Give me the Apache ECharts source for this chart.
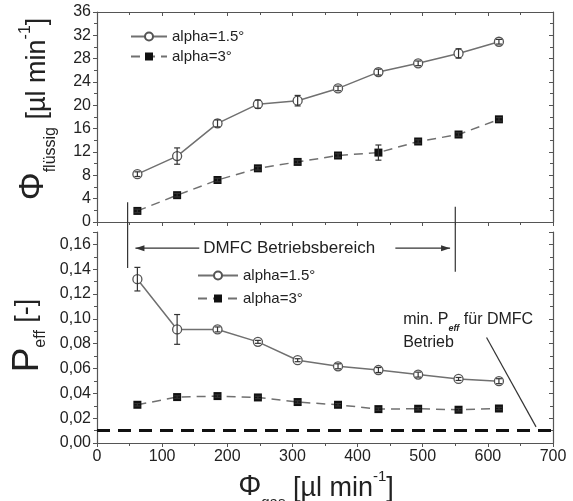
<!DOCTYPE html>
<html>
<head>
<meta charset="utf-8">
<script src="https://cdn.jsdelivr.net/npm/echarts@6/dist/echarts.min.js"></script>
<style>
html,body{margin:0;padding:0;background:#fff;}
#main{width:573px;height:501px;}
</style>
</head>
<body>
<div id="main"></div>
<script>
// Gasfluss (x) fuer beide Diagramme
var gasFlow = [62, 123, 185, 247, 308, 370, 432, 493, 555, 617];

// oben: Fluessigkeitsfluss
var flowA15 = [8.2, 11.3, 16.9, 20.2, 20.8, 22.9, 25.7, 27.2, 28.9, 30.9];
var flowA15Err = [0.4, 1.4, 0.6, 0.7, 0.9, 0.4, 0.5, 0.4, 0.8, 0.4];
var flowA3 = [1.9, 4.6, 7.2, 9.2, 10.3, 11.4, 11.9, 13.8, 15.0, 17.6];
var flowA3Err = [0.3, 0.3, 0.3, 0.3, 0.3, 0.3, 1.3, 0.3, 0.3, 0.3];

// unten: Peff
var peffA15 = [0.132, 0.0915, 0.0915, 0.0815, 0.0667, 0.0618, 0.0588, 0.0551, 0.0516, 0.0498];
var peffA15Err = [0.0095, 0.012, 0.002, 0.0012, 0.0012, 0.002, 0.002, 0.002, 0.0012, 0.002];
var peffA3 = [0.0308, 0.0370, 0.0378, 0.0367, 0.0330, 0.0308, 0.0273, 0.0276, 0.0268, 0.0278];
var peffA3Err = [0.001, 0.001, 0.001, 0.001, 0.001, 0.001, 0.001, 0.001, 0.001, 0.001];

var minPeff = 0.01;
var legendNames = ['alpha=1.5°', 'alpha=3°'];

var font = 'Liberation Sans, Arial, sans-serif';
var axisColor = '#555';
var lineGray = '#707070';

function pairs(xs, ys) {
    return xs.map(function (x, i) { return [x, ys[i]]; });
}
function errData(xs, ys, es) {
    return xs.map(function (x, i) { return [x, ys[i], ys[i] - es[i], ys[i] + es[i]]; });
}

function errRender(params, api) {
    var p0 = api.coord([api.value(0), api.value(2)]);
    var p1 = api.coord([api.value(0), api.value(3)]);
    var st = {stroke: '#333', lineWidth: 1.2};
    return {
        type: 'group',
        children: [
            {type: 'line', shape: {x1: p0[0], y1: p0[1], x2: p1[0], y2: p1[1]}, style: st},
            {type: 'line', shape: {x1: p0[0] - 3, y1: p0[1], x2: p0[0] + 3, y2: p0[1]}, style: st},
            {type: 'line', shape: {x1: p1[0] - 3, y1: p1[1], x2: p1[0] + 3, y2: p1[1]}, style: st}
        ]
    };
}

// Textstile fuer Achsentitel mit Index
function richSet(main, big, sub, mainLift, subDrop) {
    return {
        m: {fontSize: main, fontFamily: font, color: '#222', lineHeight: 36, verticalAlign: 'bottom', padding: [0, 0, mainLift, 0]},
        big: {fontSize: big, fontFamily: font, color: '#222', lineHeight: 36, verticalAlign: 'bottom'},
        sub: {fontSize: sub, fontFamily: font, color: '#222', lineHeight: 36, verticalAlign: 'bottom', padding: [0, 0, -subDrop, 0]},
        sup: {fontSize: sub, fontFamily: font, color: '#222', lineHeight: 36, verticalAlign: 'top', padding: [3, 0, 0, 0]}
    };
}

function xAx(grid, pos, labels, name) {
    var a = {
        type: 'value', gridIndex: grid, position: pos, min: 0, max: 700, interval: 100,
        axisLine: {show: true, onZero: false, lineStyle: {color: axisColor, width: 1.2}},
        axisTick: {show: true, inside: pos === 'top', length: 4, lineStyle: {color: axisColor}},
        minorTick: {show: true, splitNumber: 2, length: 3, lineStyle: {color: axisColor}},
        axisLabel: {show: labels, color: '#222', fontSize: 16, fontFamily: font, margin: 6},
        splitLine: {show: false}
    };
    if (pos === 'top' && grid === 1) a.axisLine.show = false, a.axisTick.show = false, a.minorTick.show = false;
    if (name) {
        a.name = name;
        a.nameLocation = 'middle';
        a.nameGap = 14;
        a.nameTextStyle = {fontFamily: font, color: '#222', padding: [0, 18, 0, 0], rich: richSet(27, 29, 15, 0, 8)};
    }
    return a;
}

function yAx(grid, pos, max, interval, fmt, name, gap, pad, rich) {
    var a = {
        type: 'value', gridIndex: grid, position: pos, min: 0, max: max, interval: interval,
        axisLine: {show: true, onZero: false, lineStyle: {color: axisColor, width: 1.2}},
        axisTick: {show: true, inside: pos === 'right', length: 4, lineStyle: {color: axisColor}},
        minorTick: {show: true, splitNumber: 2, length: 3, lineStyle: {color: axisColor}},
        axisLabel: {show: pos === 'left', color: '#222', fontSize: 16, fontFamily: font, margin: 6,
            showMaxLabel: grid === 0, formatter: fmt},
        splitLine: {show: false}
    };
    if (name) {
        a.name = name;
        a.nameLocation = 'middle';
        a.nameRotate = 90;
        a.nameGap = gap;
        a.nameTextStyle = {fontFamily: font, color: '#222', padding: pad, rich: rich};
    }
    return a;
}

var s15Style = {
    type: 'line', symbol: 'circle', symbolSize: 9,
    lineStyle: {color: lineGray, width: 1.5},
    itemStyle: {color: '#fff', borderColor: '#555', borderWidth: 1.3},
    z: 3
};
var s3Style = {
    type: 'line', symbol: 'rect', symbolSize: 8,
    lineStyle: {color: lineGray, width: 1.5, type: [9, 6]},
    itemStyle: {color: '#111'},
    z: 3
};

function lineSeries(base, name, xi, yi, data) {
    var s = echarts.util.merge({}, base, true);
    s.name = name;
    s.xAxisIndex = xi;
    s.yAxisIndex = yi;
    s.data = data;
    s.animation = false;
    return s;
}
function errSeries(xi, yi, data) {
    return {type: 'custom', xAxisIndex: xi, yAxisIndex: yi, renderItem: errRender, data: data, z: 5, silent: true, animation: false};
}

var chart = echarts.init(document.getElementById('main'));
var commaFmt = function (v) { return v.toFixed(2).replace('.', ','); };
var legendText = {fontFamily: font, fontSize: 15, color: '#222'};

chart.setOption({
    backgroundColor: '#fff',
    animation: false,
    grid: [
        {left: 97, right: 20, top: 12, height: 210, outerBoundsMode: 'none'},
        {left: 97, right: 20, top: 232, height: 211, outerBoundsMode: 'none'}
    ],
    legend: [
        {data: legendNames, orient: 'vertical', left: 125, top: 24, itemWidth: 36, itemHeight: 10, itemGap: 5,
            textStyle: legendText, selectedMode: false},
        {data: legendNames, orient: 'vertical', left: 192, top: 263, itemWidth: 40, itemHeight: 10, itemGap: 8,
            textStyle: legendText, selectedMode: false}
    ],
    xAxis: [
        xAx(0, 'bottom', false),
        xAx(0, 'top', false),
        xAx(1, 'bottom', true, '{big|Φ}{sub|gas}{m| [µl min}{sup|-1}{m|]}'),
        xAx(1, 'top', false)
    ],
    yAxis: [
        yAx(0, 'left', 36, 4, null, '{big|Φ}{sub|flüssig}{m| [µl min}{sup|-1}{m|]}', 46, [0, 0, 0, 16], richSet(27, 35, 16, 0, 8)),
        yAx(0, 'right', 36, 4, null),
        yAx(1, 'left', 0.17, 0.02, commaFmt, '{big|P}{sub|eff}{m| [-]}', 38, [0, 0, 0, 4], richSet(27, 37, 16, 6, 3)),
        yAx(1, 'right', 0.17, 0.02, commaFmt)
    ],
    series: [
        lineSeries(s15Style, legendNames[0], 0, 0, pairs(gasFlow, flowA15)),
        lineSeries(s3Style, legendNames[1], 0, 0, pairs(gasFlow, flowA3)),
        errSeries(0, 0, errData(gasFlow, flowA15, flowA15Err)),
        errSeries(0, 0, errData(gasFlow, flowA3, flowA3Err)),
        lineSeries(s15Style, legendNames[0], 2, 2, pairs(gasFlow, peffA15)),
        lineSeries(s3Style, legendNames[1], 2, 2, pairs(gasFlow, peffA3)),
        errSeries(2, 2, errData(gasFlow, peffA15, peffA15Err)),
        errSeries(2, 2, errData(gasFlow, peffA3, peffA3Err)),
        {type: 'line', name: 'min', xAxisIndex: 2, yAxisIndex: 2, symbol: 'none', silent: true,
            data: [[0, minPeff], [700, minPeff]],
            lineStyle: {color: '#111', width: 3, type: [13, 8]}, z: 2}
    ]
});

// Beschriftungen und Pfeile, in Datenkoordinaten umgerechnet
function px(grid, x, y) {
    return chart.convertToPixel({gridIndex: grid}, [x, y]);
}
function seg(a, b, w) {
    return {type: 'line', shape: {x1: a[0], y1: a[1], x2: b[0], y2: b[1]}, style: {stroke: '#333', lineWidth: w || 1.2}, z: 10};
}
function head(tip, dir) {
    var l = 9, h = 3;
    return {type: 'polygon', shape: {points: [[tip[0], tip[1]], [tip[0] - dir * l, tip[1] - h], [tip[0] - dir * l, tip[1] + h]]},
        style: {fill: '#333'}, z: 10};
}

var rangeLo = 47, rangeHi = 550;
var arrowY = 0.157;
var aL0 = px(1, 59, arrowY), aL1 = px(1, 157, arrowY);
var aR0 = px(1, 458, arrowY), aR1 = px(1, 542, arrowY);
var txtPos = px(1, 163, arrowY);
var noteA = px(1, 470, 0.0995);
var noteB = px(1, 470, 0.081);
var ptr0 = px(1, 598, 0.085), ptr1 = px(1, 674, 0.013);

chart.setOption({
    graphic: [
        seg(px(0, rangeLo, 3.4), px(1, rangeLo, 0.141)),
        seg(px(0, rangeHi, 2.6), px(1, rangeHi, 0.138)),
        seg(aL0, aL1), head(aL0, -1),
        seg(aR0, aR1), head(aR1, 1),
        {type: 'text', x: txtPos[0], y: txtPos[1], z: 10,
            style: {text: 'DMFC Betriebsbereich', fontFamily: font, fontSize: 17, fill: '#222', verticalAlign: 'middle'}},
        {type: 'text', x: noteA[0], y: noteA[1], z: 10,
            style: {text: '{t|min. P}{s|eff}{t| für DMFC}', verticalAlign: 'middle',
                rich: {t: {fontFamily: font, fontSize: 16, fill: '#222', lineHeight: 20},
                       s: {fontFamily: font, fontSize: 9, fontStyle: 'italic', fontWeight: 'bold', fill: '#222', lineHeight: 20, verticalAlign: 'bottom', padding: [0, 0, -4, 0]}}}},
        {type: 'text', x: noteB[0], y: noteB[1], z: 10,
            style: {text: 'Betrieb', fontFamily: font, fontSize: 16, fill: '#222', verticalAlign: 'middle'}},
        seg(ptr0, ptr1)
    ]
});
</script>
</body>
</html>
